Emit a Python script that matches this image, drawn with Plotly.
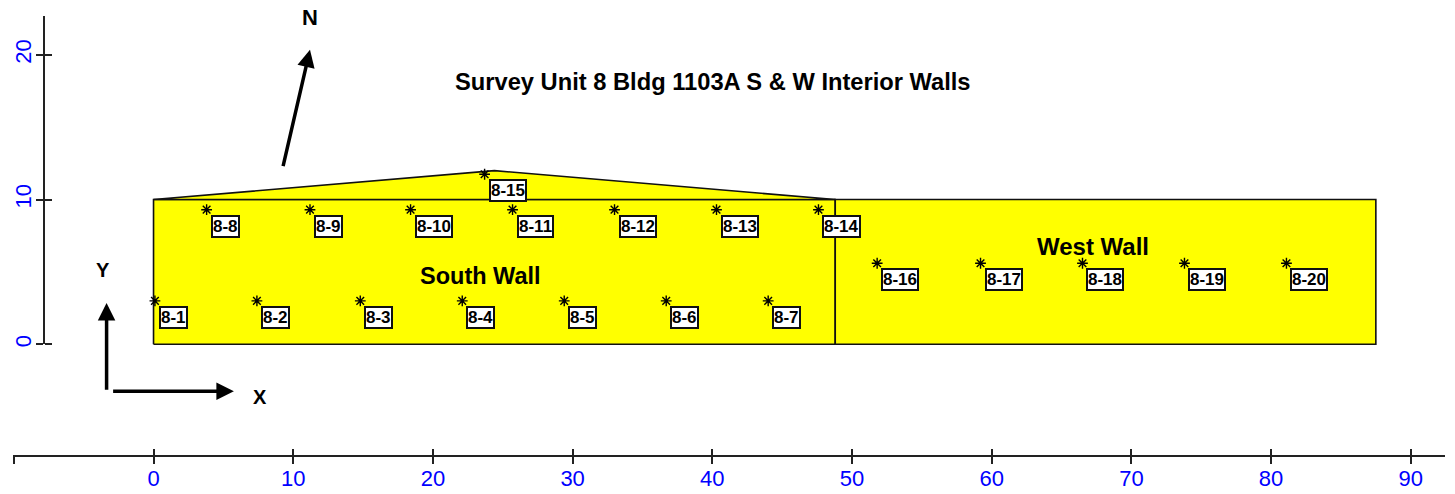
import plotly.graph_objects as go

X_TICKS = [-10, 0, 10, 20, 30, 40, 50, 60, 70, 80, 90]
X_TICK_TEXT = ["", "0", "10", "20", "30", "40", "50", "60", "70", "80", "90"]
Y_TICKS = [0, 10, 20]

SOUTH_X = [0, 0, 48.8, 48.8, 0]
SOUTH_Y = [0, 10, 10, 0, 0]
GABLE_X = [0, 24.4, 48.8, 0]
GABLE_Y = [10, 12, 10, 10]
WEST_X = [48.8, 48.8, 87.5, 87.5, 48.8]
WEST_Y = [0, 10, 10, 0, 0]

POINT_LABELS = [f"8-{i}" for i in range(1, 21)]
POINT_X = [0.1, 7.4, 14.8, 22.1, 29.4, 36.7, 44.0,
           3.8, 11.2, 18.4, 25.7, 33.0, 40.3, 47.6,
           23.7,
           51.8, 59.2, 66.5, 73.8, 81.1]
POINT_Y = [3.0] * 7 + [9.3] * 7 + [11.75] + [5.6] * 5

TEXT_LABELS = ["Survey Unit 8 Bldg 1103A S & W Interior Walls", "South Wall", "West Wall", "N", "Y", "X"]
TEXT_X = [40.05, 23.4, 67.25, 11.2, -3.6, 7.6]
TEXT_Y = [18.1, 4.7, 6.75, 22.55, 5.1, -3.65]
TEXT_SIZE = [23.7, 23.5, 24, 22, 20, 20]

# arrows: tail x, tail y, head x, head y
ARROWS = [(-3.36, -3.25, -3.36, 2.85), (-3.0, -3.25, 5.75, -3.25), (9.25, 12.2, 11.2, 20.35)]

W, H, H_EFF = 1455, 494, 492
FONT = "Liberation Sans, Arial, sans-serif"
BLUE = "#0000ff"
AXIS = "#222222"

fig = go.Figure()
for xs, ys in [(SOUTH_X, SOUTH_Y), (GABLE_X, GABLE_Y), (WEST_X, WEST_Y)]:
    fig.add_trace(go.Scatter(x=xs, y=ys, mode="lines", fill="toself", fillcolor="#ffff00",
                             line=dict(color="#111111", width=1.6), hoverinfo="skip", showlegend=False))
fig.add_trace(go.Scatter(x=POINT_X, y=POINT_Y, mode="markers",
                         marker=dict(symbol="asterisk-open", size=9, color="black",
                                     line=dict(color="black", width=1.4)),
                         hovertext=POINT_LABELS, showlegend=False, cliponaxis=False))
for ya in ("y2", "y3"):
    fig.add_trace(go.Scatter(x=[0] * len(Y_TICKS), y=Y_TICKS, xaxis="x2", yaxis=ya, mode="markers",
                             marker=dict(opacity=0), hoverinfo="skip", showlegend=False))

for t, x, y in zip(POINT_LABELS, POINT_X, POINT_Y):
    fig.add_annotation(x=x, y=y, xref="x", yref="y", text=f"<b>{t}</b>", showarrow=False,
                       xanchor="left", yanchor="top", xshift=4, yshift=-5,
                       font=dict(family=FONT, size=17, color="black"),
                       bgcolor="white", bordercolor="#111111", borderwidth=2, borderpad=0)
for t, x, y, s in zip(TEXT_LABELS, TEXT_X, TEXT_Y, TEXT_SIZE):
    fig.add_annotation(x=x, y=y, xref="x", yref="y", text=f"<b>{t}</b>", showarrow=False,
                       font=dict(family=FONT, size=s, color="black"))
for x0, y0, x1, y1 in ARROWS:
    fig.add_annotation(x=x1, y=y1, ax=x0, ay=y0, xref="x", yref="y", axref="x", ayref="y", text="",
                       showarrow=True, arrowhead=2, arrowsize=1, arrowwidth=3.5, arrowcolor="black", standoff=0)

tick_style = dict(ticklen=7, tickwidth=1.5, tickcolor=AXIS)
x_dom = [13 / W, 1445 / W]
x_rng = [-10.06, 92.45]
x_pos = (H_EFF - 457) / H_EFF
y_dom = [(H_EFF - 345) / H_EFF, (H_EFF - 16) / H_EFF]
y3_dom = [(H_EFF - 347) / H_EFF, (H_EFF - 16) / H_EFF]
fig.update_layout(
    width=W, height=H, margin=dict(l=0, r=0, t=0, b=0), autosize=False,
    paper_bgcolor="white", plot_bgcolor="rgba(0,0,0,0)", showlegend=False,
    xaxis=dict(domain=x_dom, range=x_rng, anchor="free", position=x_pos,
               showgrid=False, zeroline=False, showline=True, linecolor=AXIS, linewidth=1.5,
               tickmode="array", tickvals=X_TICKS, ticktext=X_TICK_TEXT, ticks="outside", tickangle=0,
               ticklabelstandoff=-4, tickfont=dict(family=FONT, size=22, color=BLUE), **tick_style),
    xaxis2=dict(domain=x_dom, range=x_rng, anchor="free", position=x_pos, showgrid=False, zeroline=False,
                showline=False, tickmode="array", tickvals=X_TICKS, ticks="inside",
                showticklabels=False, **tick_style),
    yaxis=dict(domain=[0, 1], range=[-10.14, 23.79], visible=False, anchor="x"),
    yaxis2=dict(domain=y_dom, range=[0, 22.69], anchor="free", position=44 / W,
                showgrid=False, zeroline=False, showline=True, linecolor=AXIS, linewidth=1.5,
                tickmode="array", tickvals=Y_TICKS, ticktext=[str(v) for v in Y_TICKS], ticks="outside",
                tickangle=-90, ticklabelstandoff=-4, tickfont=dict(family=FONT, size=22, color=BLUE), **tick_style),
    yaxis3=dict(domain=y3_dom, range=[-0.1379, 22.69], anchor="free", position=44 / W, showgrid=False,
                zeroline=False, showline=False, tickmode="array", tickvals=Y_TICKS, ticks="inside",
                showticklabels=False, **tick_style),
)
fig.write_html("out.html", config=dict(displayModeBar=False),
               post_script="document.body.style.margin='0';")
